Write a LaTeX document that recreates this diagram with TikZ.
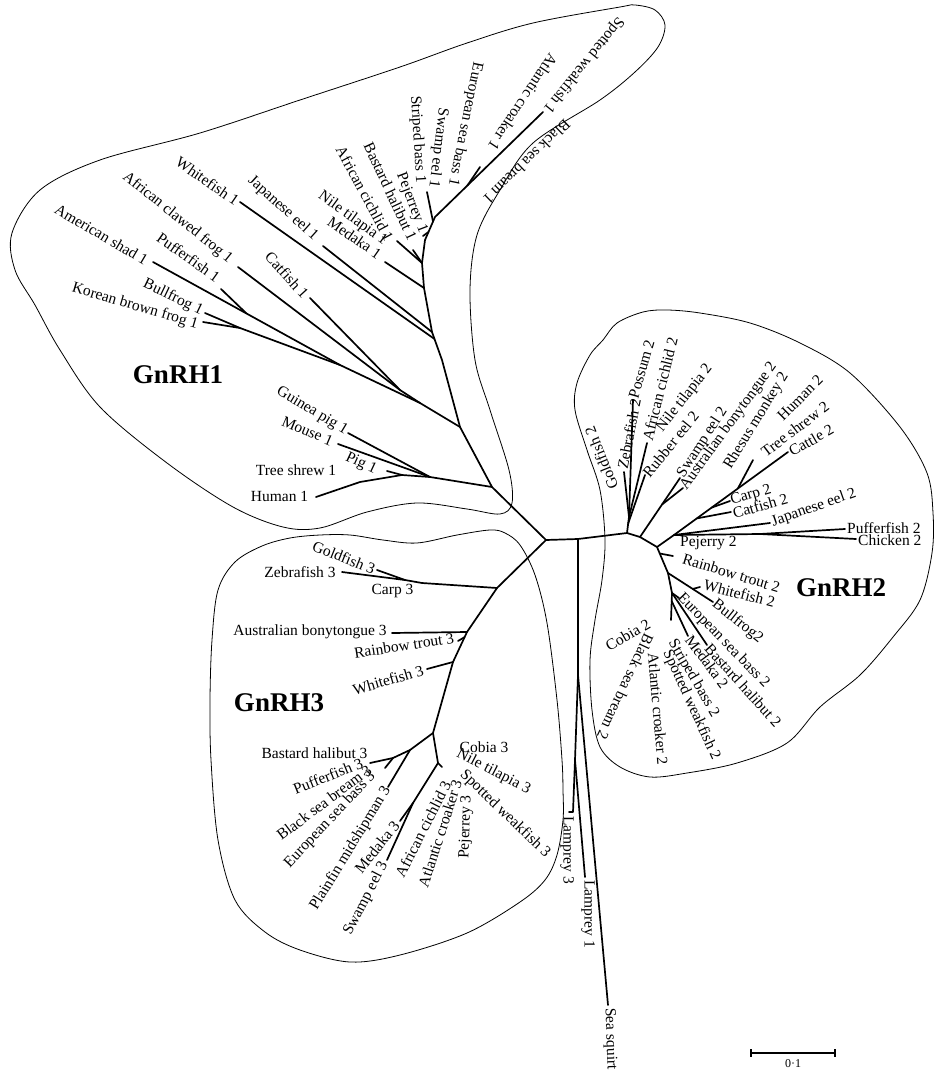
\documentclass[tikz,border=0pt]{standalone}
\usepackage{fontspec}
\setmainfont{Liberation Serif}
\usetikzlibrary{calc}
\begin{document}
\begin{tikzpicture}[x=1pt,y=-1pt,
  br/.style={line width=1.7pt,line cap=round,line join=round},
  hull/.style={line width=0.8pt},
  lab/.style={font=\fontsize{15.5}{16}\selectfont,inner sep=1pt},
  clade/.style={font=\fontsize{27}{28}\selectfont\bfseries,inner sep=0pt}]
\useasboundingbox (0,0) rectangle (936,1070);

% ---------------- hulls
\draw[hull] plot[smooth cycle, tension=0.55] coordinates {(620,7) (533,23) (467,43) (400,67) (300,100) (200,133) (100,160) (40,190) (12,233) (15,270) (35,305) (60,350) (100,407) (167,463) (233,507) (283,527) (320,528) (367,512) (417,503) (467,509) (500,514) (512,503) (509,470) (490,410) (475,360) (470,290) (477,235) (500,190) (533,143) (600,100) (635,72) (658,47) (665,25) (655,10) (635,5)};
\draw[hull] plot[smooth cycle, tension=0.55] coordinates {(490,530) (457,535) (417,543) (383,540) (350,535) (320,535) (290,538) (262,546) (235,562) (218,590) (212,640) (210,700) (211,760) (218,840) (235,900) (265,932) (300,950) (350,962) (400,955) (467,933) (520,902) (545,880) (557,855) (563,820) (563,790) (562,760) (557,700) (547,623) (535,575) (520,545) (505,533)};
\draw[hull] plot[smooth cycle, tension=0.55] coordinates {(603,340) (617,323) (643,312) (667,310) (700,313) (750,323) (800,343) (850,373) (900,427) (927,473) (933,513) (932,553) (920,600) (893,637) (860,675) (820,707) (787,743) (737,763) (687,773) (650,777) (620,767) (600,747) (592,710) (590,660) (595,620) (602,580) (605,540) (600,490) (587,450) (575,410) (577,383) (590,355)};

% ---------------- centre
\coordinate (c0) at (546,540);
\coordinate (r1) at (578,539);
\coordinate (g2) at (627,533);

% ---------------- GnRH1
\coordinate (j1) at (492,487);
\coordinate (j2) at (460,427);
\coordinate (k0) at (442,360);
\coordinate (k1) at (432,332);
\coordinate (k2) at (424,288);
\coordinate (k3) at (422,263);
\coordinate (k4) at (425,240);
\coordinate (k5) at (435,217);
\coordinate (tSpw1) at (543,112);
\coordinate (kAc1) at ($(k5)!0.3!(tSpw1)$);
\coordinate (tAc1) at (480,167);
\coordinate (kSb1) at ($(k4)!0.8!(k5)$);
\coordinate (tSb1) at (427,192);
\coordinate (kPj1) at ($(k4)!0.35!(k5)$);
\coordinate (tPj1) at (423,236);
\coordinate (tBh1) at (413,250);
\coordinate (tCi1) at (397,241);
\coordinate (tMd1) at (385,262);
\coordinate (tJe1) at (323,246);
\coordinate (kWf1) at ($(k1)!0.25!(k0)$);
\coordinate (tWf1) at (240,202);
\coordinate (j3) at (420,403);
\coordinate (m1) at (340,365);
\coordinate (m2) at (400,390);
\coordinate (fr) at (240,328);
\coordinate (tBf1) at (205,313);
\coordinate (tKb1) at (203,322);
\coordinate (tAs1) at (153,262);
\coordinate (kPf1) at ($(tAs1)!0.5!(m1)$);
\coordinate (tPf1) at (221,289);
\coordinate (tCf1) at (238,267);
\coordinate (tCt1) at (310,298);
\coordinate (mm) at (430,477);
\coordinate (tGp1) at (348,433);
\coordinate (tMo1) at (338,444);
\coordinate (h1) at (402,475);
\coordinate (h2) at (360,482);
\coordinate (tHu1) at (316,497);
\coordinate (tPg1) at (387,471);

\draw[br] (c0) -- (j1) -- (j2) -- (k0) -- (k1) -- (k2) -- (k3) -- (k4) -- (k5) -- (tSpw1);
\draw[br] (kAc1) -- (tAc1);
\draw[br] (kSb1) -- (tSb1);
\draw[br] (kPj1) -- (tPj1);
\draw[br] (k3) -- (tBh1);
\draw[br] (k3) -- (tCi1);
\draw[br] (k2) -- (tMd1);
\draw[br] (k1) -- (tJe1);
\draw[br] (kWf1) -- (tWf1);
\draw[br] (j2) -- (j3) -- (m1) -- (fr) -- (tBf1);
\draw[br] (fr) -- (tKb1);
\draw[br] (m1) -- (tAs1);
\draw[br] (kPf1) -- (tPf1);
\draw[br] (j3) -- (m2) -- (tCf1);
\draw[br] (m2) -- (tCt1);
\draw[br] (j1) -- (mm) -- (tGp1);
\draw[br] (mm) -- (tMo1);
\draw[br] (mm) -- (h1) -- (h2) -- (tHu1);
\draw[br] (h1) -- (tPg1);

\node[lab,rotate=-129] (lSpw1) at (583.5,65) {Spotted weakfish 1};
\node[lab,rotate=-123.7] (lAc1) at (523,102) {Atlantic croaker 1};
\node[lab,rotate=-136] (lBsb1) at (527,162) {Black sea bream 1};
\node[lab,rotate=-101.5] (lEsb1) at (465,124) {European sea bass 1};
\node[lab,rotate=-97] (lSe1) at (438,148) {Swamp eel 1};
\node[lab,rotate=-86.6] (lSb1) at (417.5,139.5) {Striped bass 1};
\node[lab,rotate=-69] (lPj1) at (411.5,203) {Pejerrey 1};
\node[lab,rotate=-65] (lBh1) at (390.5,191.5) {Bastard halibut 1};
\node[lab,rotate=-61.7] (lCi1) at (365,193.5) {African cichlid 1};
\node[lab,rotate=-36] (lNt1) at (352.5,218.5) {Nile tilapia 1};
\node[lab,rotate=-35] (lMd1) at (354.5,237.5) {Medaka 1};
\node[lab,rotate=-42] (lJe1) at (283,208.5) {Japanese eel 1};
\node[lab,rotate=-34.5] (lWf1) at (207.5,181) {Whitefish 1};
\node[lab,rotate=-39] (lCf1) at (177.5,218) {African clawed frog 1};
\node[lab,rotate=-30.6] (lAs1) at (101.5,234.5) {American shad 1};
\node[lab,rotate=-35.5] (lPf1) at (188.5,257.5) {Pufferfish 1};
\node[lab,rotate=-47.7] (lCt1) at (287,275) {Catfish 1};
\node[lab,rotate=-25.8] (lBf1) at (173,297.5) {Bullfrog 1};
\node[lab,rotate=-16.4] (lKb1) at (135,306.5) {Korean brown frog 1};
\node[lab,rotate=-31] (lGp1) at (312,411) {Guinea pig 1};
\node[lab,rotate=-23] (lMo1) at (307.5,431) {Mouse 1};
\node[lab] (lTs1) at (296,470) {Tree shrew 1};
\node[lab,rotate=-25] (lPg1) at (361,464) {Pig 1};
\node[lab] (lHu1) at (279.5,496) {Human 1};

% ---------------- GnRH3
\coordinate (g3a) at (497,588);
\coordinate (g3b) at (467,632);
\coordinate (g3c) at (453,662);
\coordinate (a3) at (433,733);
\coordinate (z3) at (422,583);
\coordinate (z3b) at (405,580);
\coordinate (tZf3) at (342,572);
\coordinate (tGf3) at (377,570);
\coordinate (tAb3) at (392,633);
\coordinate (kRt3) at ($(g3b)!0.17!(g3c)$);
\coordinate (tRt3) at (458,641);
\coordinate (tWf3) at (427,669);
\coordinate (b3) at (410,750);
\coordinate (cc3) at (393,758);
\coordinate (tBh3) at (370,763);
\coordinate (tPf3) at (385,768);
\coordinate (tPm3) at (388,787);
\coordinate (d3) at (438,763);
\coordinate (tD3) at (442,767);
\coordinate (e3) at (413,803);
\coordinate (tMd3) at (400,821);
\coordinate (tSe3) at (387,860);

\draw[br] (c0) -- (g3a) -- (g3b) -- (g3c) -- (a3) -- (b3) -- (cc3) -- (tBh3);
\draw[br] (g3a) -- (z3) -- (z3b) -- (tZf3);
\draw[br] (z3b) -- (tGf3);
\draw[br] (g3b) -- (tAb3);
\draw[br] (kRt3) -- (tRt3);
\draw[br] (g3c) -- (tWf3);
\draw[br] (cc3) -- (tPf3);
\draw[br] (b3) -- (tPm3);
\draw[br] (a3) -- (d3) -- (tD3);
\draw[br] (d3) -- (e3) -- (tMd3);
\draw[br] (e3) -- (tSe3);

\node[lab,rotate=-22] (lGf3) at (344,557.5) {Goldfish 3};
\node[lab] (lZf3) at (300,572) {Zebrafish 3};
\node[lab] (lCp3) at (392.5,591) {Carp 3};
\node[lab] (lAb3) at (310,632) {Australian bonytongue 3};
\node[lab,rotate=8.7] (lRt3) at (404,645.5) {Rainbow trout 3};
\node[lab,rotate=16] (lWf3) at (388,680) {Whitefish 3};
\node[lab] (lBh3) at (314.5,753) {Bastard halibut 3};
\node[lab,rotate=21.8] (lPf3) at (328,776) {Pufferfish 3};
\node[lab,rotate=36.9] (lBsb3) at (324,802.5) {Black sea bream 3};
\node[lab,rotate=46.8] (lEsb3) at (330,820) {European sea bass 3};
\node[lab,rotate=58.6] (lPm3) at (350.5,848.5) {Plainfin midshipman 3};
\node[lab,rotate=51] (lMd3) at (377,847) {Medaka 3};
\node[lab,rotate=62.5] (lSe3) at (366,898.5) {Swamp eel 3};
\node[lab,rotate=63] (lCi3) at (423,829) {African cichlid 3};
\node[lab,rotate=72] (lAc3) at (440,833.5) {Atlantic croaker 3};
\node[lab,rotate=88] (lPj3) at (466,827) {Pejerrey 3};
\node[lab,rotate=-44] (lSpw3) at (505,814) {Spotted weakfish 3};
\node[lab,rotate=-27.5] (lNt3) at (493.5,772) {Nile tilapia 3};
\node[lab] (lCo3) at (484,747) {Cobia 3};

% ---------------- lampreys / sea squirt
\coordinate (n1) at (578,675);
\coordinate (n2) at (575,760);
\coordinate (tLa3) at (573,812);
\coordinate (tLa3b) at (569,812);
\coordinate (tLa1) at (585,877);
\coordinate (tSq) at (608,1005);
\draw[br] (r1) -- (n1) -- (n2) -- (tLa3) -- (tLa3b);
\draw[br] (n2) -- (tLa1);
\draw[br] (n1) -- (tSq);
\node[lab,rotate=-90,anchor=west] (lLa3) at (567,815) {Lamprey 3};
\node[lab,rotate=-90,anchor=west] (lLa1) at (588,879) {Lamprey 1};
\node[lab,rotate=-88,anchor=west] (lSq) at (609,1007) {Sea squirt};

% ---------------- GnRH2
\coordinate (u1) at (629,517);
\coordinate (u3) at ($(g2)!0.6!(u1)$);
\coordinate (tPo2) at (633,400);
\coordinate (tZf2) at (624,472);
\coordinate (tCi2) at (647,443);
\coordinate (tRe2) at (645,475);
\coordinate (s0) at (640,537);
\coordinate (tSe2) at (680,478);
\coordinate (s1) at ($(s0)!0.55!(tSe2)$);
\coordinate (tAb2) at (683,488);
\coordinate (p2) at (657,547);
\coordinate (q2) at (674,535);
\coordinate (tCa2) at (788,452);
\coordinate (kCf2) at ($(q2)!0.2!(tCa2)$);
\coordinate (tCf2) at (731,512);
\coordinate (kCp2) at ($(q2)!0.33!(tCa2)$);
\coordinate (tCp2) at (730,501);
\coordinate (kRh2) at ($(q2)!0.56!(tCa2)$);
\coordinate (tTs2) at (753,460);
\coordinate (tJe2) at (770,523);
\coordinate (rr2) at (760,534);
\coordinate (tPf2) at (845,529);
\coordinate (tCh2) at (856,539);
\coordinate (l0) at (668,573);
\coordinate (l1) at (672,593);
\coordinate (l2) at (671,620);
\coordinate (kPj2) at ($(p2)!0.25!(l0)$);
\coordinate (tPj2) at (673,556);
\coordinate (tBf2) at (713,602);
\coordinate (kWf2) at ($(l0)!0.55!(tBf2)$);
\coordinate (tWf2) at (700,587);
\coordinate (tEs2) at (679,598);
\coordinate (tBh2) at (707,645);
\coordinate (kMd2) at ($(l1)!0.3!(l2)$);
\coordinate (tMd2) at (688,636);

\draw[br] (c0) -- (r1) -- (g2) -- (u1) -- (tPo2);
\draw[br] (u1) -- (tZf2);
\draw[br] (u1) -- (tCi2);
\draw[br] (u3) -- (tRe2);
\draw[br] (g2) -- (s0) -- (tSe2);
\draw[br] (s1) -- (tAb2);
\draw[br] (s0) -- (p2) -- (q2) -- (tCa2);
\draw[br] (kCf2) -- (tCf2);
\draw[br] (kCp2) -- (tCp2);
\draw[br] (kRh2) -- (tTs2);
\draw[br] (q2) -- (tJe2);
\draw[br] (q2) -- (rr2) -- (tPf2);
\draw[br] (rr2) -- (tCh2);
\draw[br] (p2) -- (l0) -- (l1) -- (l2);
\draw[br] (kPj2) -- (tPj2);
\draw[br] (l0) -- (tBf2);
\draw[br] (kWf2) -- (tWf2);
\draw[br] (l1) -- (tEs2);
\draw[br] (l1) -- (tBh2);
\draw[br] (kMd2) -- (tMd2);

\node[lab,rotate=112,anchor=west] (lGf2) at (614,490) {Goldfish 2};
\node[lab,rotate=79,anchor=west] (lZf2) at (622,470) {Zebrafish 2};
\node[lab,rotate=74,anchor=west] (lPo2) at (633,399) {Possum 2};
\node[lab,rotate=76,anchor=west] (lCi2) at (647,441) {African cichlid 2};
\node[lab,rotate=52,anchor=west] (lNt2) at (659,431) {Nile tilapia 2};
\node[lab,rotate=51,anchor=west] (lRe2) at (645,476) {Rubber eel 2};
\node[lab,rotate=57,anchor=west] (lSe2) at (680,477) {Swamp eel 2};
\node[lab,rotate=54,anchor=west] (lAb2) at (683,489) {Australian bonytongue 2};
\node[lab,rotate=58.5,anchor=west] (lRh2) at (727,469) {Rhesus monkey 2};
\node[lab,rotate=45,anchor=west] (lHu2) at (779,419) {Human 2};
\node[lab,rotate=37,anchor=west] (lTs2) at (762,454) {Tree shrew 2};
\node[lab,rotate=30,anchor=west] (lCa2) at (789,453) {Cattle 2};
\node[lab,rotate=17,anchor=west] (lCp2) at (730,502) {Carp 2};
\node[lab,rotate=16,anchor=west] (lCf2) at (732,514) {Catfish 2};
\node[lab,rotate=19.4,anchor=west] (lJe2) at (771,523) {Japanese eel 2};
\node[lab,anchor=west] (lPf2) at (846,528) {Pufferfish 2};
\node[lab,anchor=west] (lCh2) at (857,540) {Chicken 2};
\node[lab,anchor=west] (lPj2) at (679,543) {Pejerry 2};
\node[lab,rotate=-17,anchor=west] (lRt2) at (682,558) {Rainbow trout 2};
\node[lab,rotate=-14.4,anchor=west] (lWf2) at (703,584) {Whitefish 2};
\node[lab,rotate=-38.7,anchor=west] (lBf2) at (713,602) {Bullfrog2};
\node[lab,rotate=-46,anchor=west] (lEs2) at (679,595) {European sea bass 2};
\node[lab,rotate=-48,anchor=west] (lBh2) at (707,645) {Bastard halibut 2};
\node[lab,rotate=-53.5,anchor=west] (lMd2) at (688,636) {Medaka 2};
\node[lab,rotate=-59.8,anchor=west] (lSb2) at (671,640) {Striped bass 2};
\node[lab,rotate=-65.4,anchor=west] (lSw2) at (666,650) {Spotted weakfish 2};
\node[lab,rotate=-85,anchor=west] (lAc2) at (653,652) {Atlantic croaker 2};
\node[lab,rotate=-115,anchor=west] (lBs2) at (650,634) {Black sea bream 2};
\node[lab,rotate=30,anchor=east] (lCo2) at (650,622) {Cobia 2};

% ---------------- clade names
\node[clade] (gn1) at (178,375) {GnRH1};
\node[clade] (gn2) at (841,588) {GnRH2};
\node[clade] (gn3) at (279,703) {GnRH3};

% ---------------- scale bar
\coordinate (sb1) at (751,1053);
\coordinate (sb2) at (835,1053);
\draw[line width=1.2pt] (sb1) -- (sb2);
\draw[line width=1.2pt] ($(sb1)+(0,-4)$) -- ($(sb1)+(0,4)$);
\draw[line width=1.2pt] ($(sb2)+(0,-4)$) -- ($(sb2)+(0,4)$);
\node[font=\fontsize{12}{13}\selectfont,inner sep=0pt] (sbl) at (793,1064) {0·1};
\end{tikzpicture}
\end{document}
